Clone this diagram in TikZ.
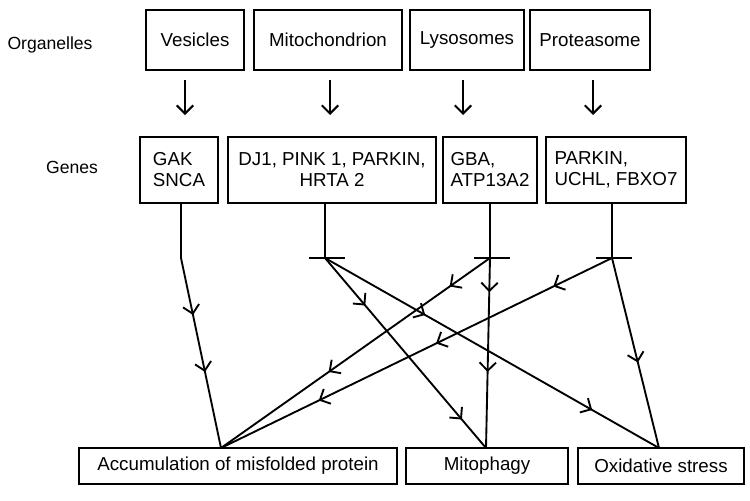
\documentclass[tikz,border=0pt]{standalone}
\usepackage{fontspec}
\setmainfont{Liberation Sans}
\usetikzlibrary{arrows.meta,decorations.markings}
\tikzset{
  box/.style={draw,line width=1.8pt,inner sep=0pt,align=left,font=\fontsize{16}{18}\selectfont},
  lbl/.style={font=\fontsize{15}{17}\selectfont},
  mark1/.style={postaction={decorate,decoration={markings,mark=at position #1 with {\arrow{Straight Barb[length=7pt,width=14pt,line width=1.6pt]}}}}},
  link/.style={line width=1.6pt}
}
\begin{document}
\begin{tikzpicture}[x=0.03cm,y=-0.03cm]
\useasboundingbox (0,0) rectangle (750,501);
%\draw[help lines] (0,0) grid[step=50] (750,501);
% organelles
\node[lbl] (org) at (50,45) {Organelles};
\node[box,minimum width=98*0.85pt,minimum height=60*0.85pt] (ves) at (195,40) {Vesicles};
\node[box,minimum width=148*0.85pt,minimum height=60*0.85pt] (mit) at (328,40) {Mitochondrion};
\node[box,minimum width=114*0.85pt,minimum height=60*0.85pt] (lys) at (467,40) {Lysosomes};
\node[box,minimum width=120*0.85pt,minimum height=60*0.85pt] (pro) at (590,40) {Proteasome};
% genes
\node[lbl] (gen) at (72,167) {Genes};
\node[box,minimum width=78*0.85pt,minimum height=67*0.85pt] (gak) at (179,170) {GAK\\SNCA};
\node[box,minimum width=209*0.85pt,minimum height=67*0.85pt,align=center] (dj) at (332,170) {DJ1, PINK 1, PARKIN,\\HRTA 2};
\node[box,minimum width=94*0.85pt,minimum height=67*0.85pt] (gba) at (490,170) {GBA,\\ATP13A2};
\node[box,minimum width=140*0.85pt,minimum height=67*0.85pt] (prk) at (616,170) {PARKIN,\\UCHL, FBXO7};
% outcomes
\node[box,minimum width=320*0.85pt,minimum height=36*0.85pt] (acc) at (238,466) {Accumulation of misfolded protein};
\node[box,minimum width=162*0.85pt,minimum height=36*0.85pt] (mph) at (487,466) {Mitophagy};
\node[box,minimum width=166*0.85pt,minimum height=36*0.85pt] (oxi) at (661,466) {Oxidative stress};
% down arrows
\foreach \a/\b/\x in {ves/gak/185,mit/dj/330,lys/gba/463,pro/prk/593}
  \draw[->,>={Straight Barb[length=7pt,width=14pt]},line width=1.8pt] (\x,80) -- (\x,115);
% junctions
\coordinate (kgak) at (181,258);
\coordinate (tdj) at (325,258);
\coordinate (tgba) at (490,258);
\coordinate (tprk) at (612,258);
\coordinate (iacc) at (221,448);
\coordinate (imph) at (486,448);
\coordinate (ioxi) at (659,448);
\draw[link] (gak.south -| kgak) -- (kgak);
\draw[link,mark1=0.3,mark1=0.6] (kgak) -- (iacc);
\draw[link] (dj.south -| tdj) -- (tdj);
\draw[link] (gba.south -| tgba) -- (tgba);
\draw[link] (prk.south -| tprk) -- (tprk);
\foreach \t in {tdj,tgba,tprk}
  \draw[link] ([xshift=-16*0.85pt]\t) -- ([xshift=20*0.85pt]\t);
\draw[link,mark1=0.25,mark1=0.85] (tdj) -- (imph);
\draw[link,mark1=0.3,mark1=0.8] (tdj) -- (ioxi);
\draw[link,mark1=0.18,mark1=0.6] (tgba) -- (imph);
\draw[link,mark1=0.15,mark1=0.6] (tgba) -- (iacc);
\draw[link,mark1=0.15,mark1=0.45,mark1=0.75] (tprk) -- (iacc);
\draw[link,mark1=0.55] (tprk) -- (ioxi);
\end{tikzpicture}
\end{document}
